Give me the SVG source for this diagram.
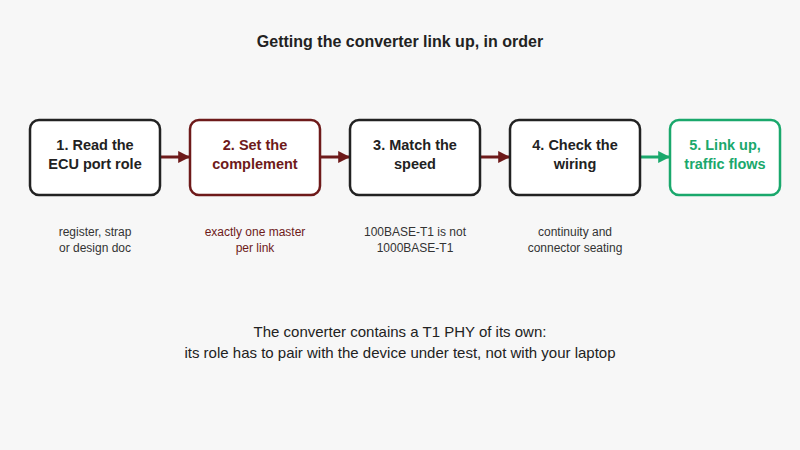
<svg xmlns="http://www.w3.org/2000/svg" width="800" height="450" viewBox="0 0 800 450">
<style>
text{font-family:"Liberation Sans",Arial,sans-serif;text-anchor:middle}
.t{font-size:14.5px;font-weight:bold;fill:#222}
.s{font-size:12px;fill:#333}
.box{fill:#fff;stroke:#222;stroke-width:2.5}
</style>
<defs>
<marker id="ar" viewBox="0 0 10 10" refX="9" refY="5" markerWidth="4" markerHeight="4" orient="auto"><path d="M0,0L10,5L0,10z" fill="#6e1a1a"/></marker>
<marker id="ag" viewBox="0 0 10 10" refX="9" refY="5" markerWidth="4" markerHeight="4" orient="auto"><path d="M0,0L10,5L0,10z" fill="#1aa86c"/></marker>
</defs>
<rect width="800" height="450" fill="#f7f7f7"/>
<text x="400" y="47" class="t" style="font-size:16px">Getting the converter link up, in order</text>
<g id="connectors" stroke-width="3">
<line x1="161" y1="157" x2="189" y2="157" stroke="#6e1a1a" marker-end="url(#ar)"/>
<line x1="321" y1="157" x2="349" y2="157" stroke="#6e1a1a" marker-end="url(#ar)"/>
<line x1="481" y1="157" x2="509" y2="157" stroke="#6e1a1a" marker-end="url(#ar)"/>
<line x1="641" y1="157" x2="669" y2="157" stroke="#1aa86c" marker-end="url(#ag)"/>
</g>
<g id="n1"><rect class="box" x="30" y="120" width="130" height="75" rx="9"/><text class="t" x="95" y="150">1. Read the</text><text class="t" x="95" y="169">ECU port role</text><text class="s" x="95" y="236">register, strap</text><text class="s" x="95" y="252">or design doc</text></g>
<g id="n2"><rect class="box" x="190" y="120" width="130" height="75" rx="9" style="stroke:#6e1a1a"/><text class="t" x="255" y="150" style="fill:#6e1a1a">2. Set the</text><text class="t" x="255" y="169" style="fill:#6e1a1a">complement</text><text class="s" x="255" y="236" style="fill:#6e1a1a">exactly one master</text><text class="s" x="255" y="252" style="fill:#6e1a1a">per link</text></g>
<g id="n3"><rect class="box" x="350" y="120" width="130" height="75" rx="9"/><text class="t" x="415" y="150">3. Match the</text><text class="t" x="415" y="169">speed</text><text class="s" x="415" y="236">100BASE-T1 is not</text><text class="s" x="415" y="252">1000BASE-T1</text></g>
<g id="n4"><rect class="box" x="510" y="120" width="130" height="75" rx="9"/><text class="t" x="575" y="150">4. Check the</text><text class="t" x="575" y="169">wiring</text><text class="s" x="575" y="236">continuity and</text><text class="s" x="575" y="252">connector seating</text></g>
<g id="n5"><rect class="box" x="670" y="120" width="110" height="75" rx="9" style="stroke:#1aa86c"/><text class="t" x="725" y="150" style="fill:#1aa86c">5. Link up,</text><text class="t" x="725" y="169" style="fill:#1aa86c">traffic flows</text></g>
<text x="400" y="337" style="font-size:15px;fill:#222">The converter contains a T1 PHY of its own:</text>
<text x="400" y="358" style="font-size:15px;fill:#222">its role has to pair with the device under test, not with your laptop</text>
</svg>
